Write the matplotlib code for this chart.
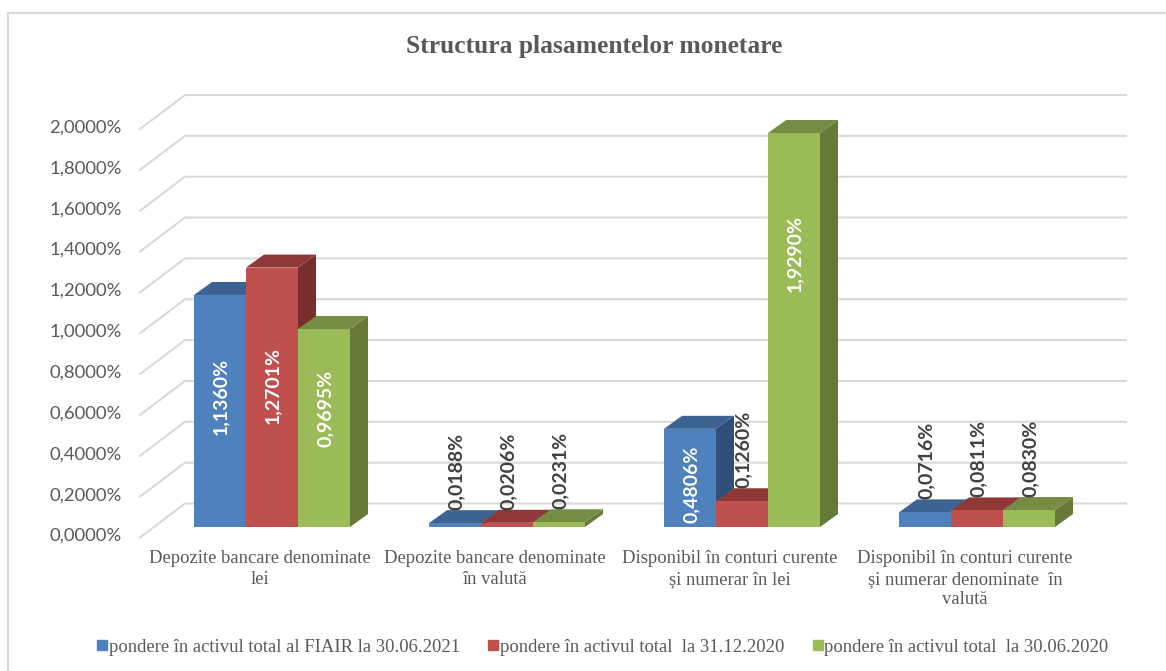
import matplotlib
matplotlib.use("Agg")
import matplotlib.pyplot as plt
from matplotlib.lines import Line2D
from matplotlib.patches import Polygon

W, H = 1166, 671

categories = [
    "Depozite bancare denominate\nlei",
    "Depozite bancare denominate\nîn valută",
    "Disponibil în conturi curente\nși numerar în lei",
    "Disponibil în conturi curente\nși numerar denominate  în\nvalută",
]
series_names = [
    "pondere în activul total al FIAIR la 30.06.2021",
    "pondere în activul total  la 31.12.2020",
    "pondere în activul total  la 30.06.2020",
]
values_2021 = [1.1360, 0.0188, 0.4806, 0.0716]
values_dec = [1.2701, 0.0206, 0.1260, 0.0811]
values_2020 = [0.9695, 0.0231, 1.9290, 0.0830]
y_ticks = [0.0, 0.2, 0.4, 0.6, 0.8, 1.0, 1.2, 1.4, 1.6, 1.8, 2.0]

series = [values_2021, values_dec, values_2020]
front_colors = ["#4F81BD", "#C0504D", "#9BBB59"]
top_colors = ["#3C6391", "#8E3937", "#748D42"]
side_colors = ["#2F4F7A", "#7A2E2C", "#667A37"]

# scale of the plot: pixels per category and per percent
PX_CAT = 235.0
PX_VAL = 204.25
X0_PX = 272.0   # centre of the first group
Y0_PX = 527.0   # foot of the bars, front face

BAR_W = 52 / PX_CAT
DEPTH_X = 18 / PX_CAT
DEPTH_Y = 13 / PX_VAL

SERIF = "Liberation Serif"
SANS = "Lato"
GREY = "#595959"
LINE = "#D9D9D9"

fig = plt.figure(figsize=(W / 100, H / 100), dpi=100)
ax = fig.add_axes([0, 0, 1, 1])
ax.set_xlim((0 - X0_PX) / PX_CAT, (W - X0_PX) / PX_CAT)
ax.set_ylim((Y0_PX - H) / PX_VAL, Y0_PX / PX_VAL)
ax.axis("off")


def xpx(px):
    return (px - X0_PX) / PX_CAT


def ypx(px):
    return (Y0_PX - px) / PX_VAL


# outer frame, only the left and top edges are inside the picture
ax.plot([xpx(8), xpx(8), xpx(W + 5)], [ypx(H + 5), ypx(13), ypx(13)],
        color=LINE, lw=1.6, solid_joinstyle="miter")

# walls: slanted part then the horizontal line at the back
for t in y_ticks:
    ax.plot([xpx(140), xpx(185), xpx(1126)],
            [t + ypx(537.5), t + ypx(503.5), t + ypx(503.5)],
            color=LINE, lw=1.5, solid_joinstyle="miter")
    ax.text(xpx(122), t + ypx(536), f"{t:.4f}%".replace(".", ","), ha="right", va="center",
            fontsize=13.3, color=GREY, family=SANS)

# bars, left to right so that each one hides the side of the one before
for g in range(len(categories)):
    for s, vals in enumerate(series):
        v = vals[g]
        left = g + (s - 1.5) * BAR_W
        right = left + BAR_W
        ax.add_patch(Polygon([(right, 0), (right + DEPTH_X, DEPTH_Y),
                              (right + DEPTH_X, v + DEPTH_Y), (right, v)],
                             facecolor=side_colors[s], edgecolor="none", zorder=3 + g + s * 0.1))
        ax.add_patch(Polygon([(left, v), (right, v), (right + DEPTH_X, v + DEPTH_Y),
                              (left + DEPTH_X, v + DEPTH_Y)],
                             facecolor=top_colors[s], edgecolor="none", zorder=3 + g + s * 0.1))
        ax.bar(left, v, width=BAR_W, align="edge", color=front_colors[s],
               zorder=3.01 + g + s * 0.1)

# labels inside the tall bars, centre height read in pixels
inside = {(0, 0): 396, (0, 1): 386, (0, 2): 408, (2, 0): 484, (2, 2): 254}
for g in range(len(categories)):
    for s, vals in enumerate(series):
        v = vals[g]
        x = g + (s - 1) * BAR_W + 1 / PX_CAT
        txt = f"{v:.4f}%".replace(".", ",")
        if (g, s) in inside:
            ax.text(x, ypx(inside[(g, s)]), txt, rotation=90, ha="center", va="center",
                    fontsize=14, fontweight="bold", color="white", family=SANS, zorder=20)
        else:
            ax.text(x, v + DEPTH_Y, txt, rotation=90, ha="center", va="bottom",
                    fontsize=14, fontweight="bold", color="#404040", family=SANS, zorder=20)

for g, cat in enumerate(categories):
    ax.text(g - 12 / PX_CAT, ypx(550), cat, ha="center", va="top", fontsize=13.4,
            color=GREY, family=SERIF, linespacing=1.28)

ax.text(xpx(594), ypx(47), "Structura plasamentelor monetare", ha="center", va="center",
        fontsize=18.4, fontweight="bold", color=GREY, family=SERIF)

handles = [Line2D([], [], ls="none", marker="s", ms=6.5, color=c) for c in front_colors]
ax.legend(handles, series_names, loc="center", bbox_to_anchor=(603 / W, 1 - 647 / H), ncol=3,
          frameon=False, handlelength=0.5, handletextpad=0.1, columnspacing=1.55,
          prop={"family": SERIF, "size": 13.4}, labelcolor=GREY, borderpad=0)

fig.savefig("out.png", dpi=100)
